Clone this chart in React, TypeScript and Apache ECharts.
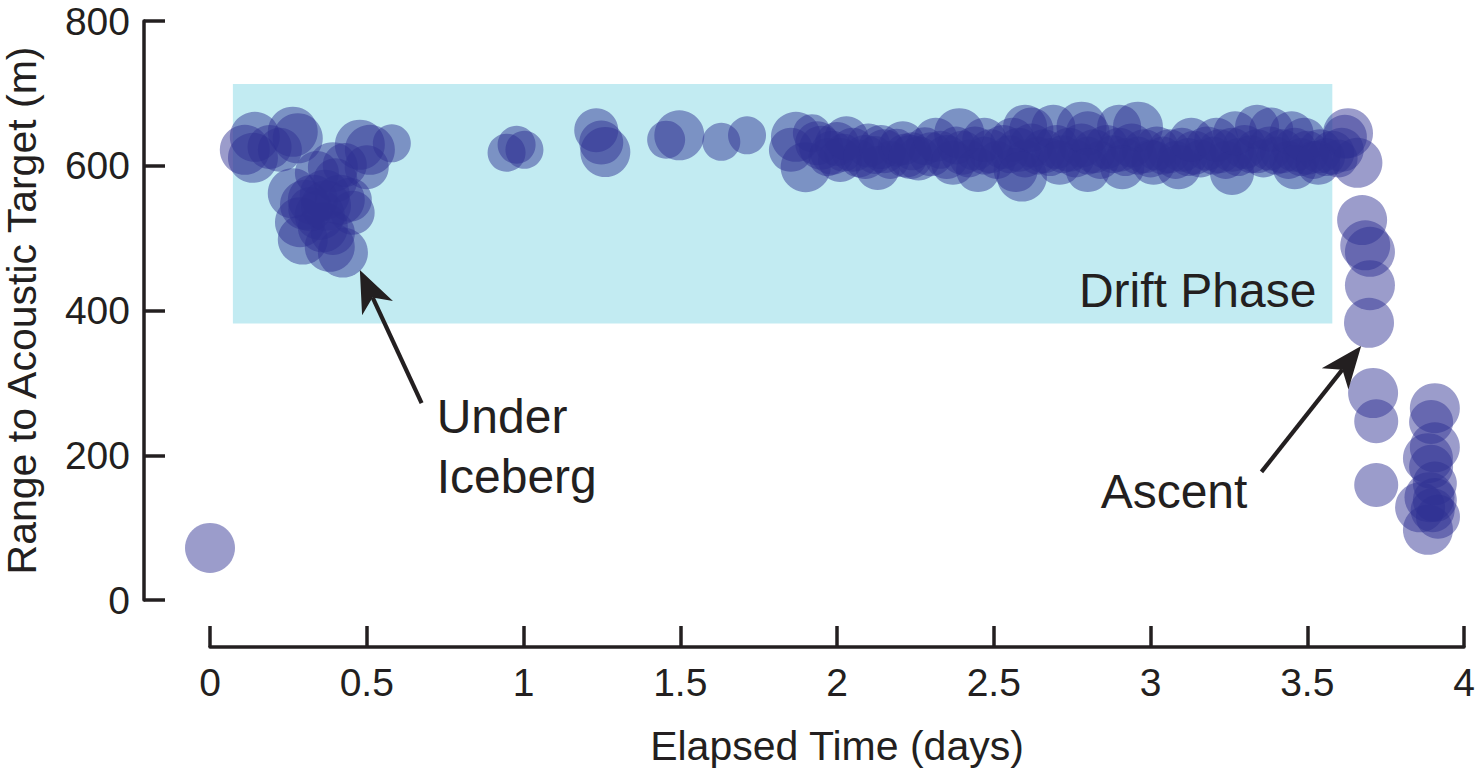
import React, { useEffect, useRef } from "react";
import * as echarts from "echarts";

// [elapsed time (days), range (m), detection weight 1..3]
const launchPoints: number[][] = [[0.0, 72, 3]];

const icebergPoints: number[][] = [
  [0.111, 622, 3], [0.137, 611, 3], [0.143, 640, 3], [0.19, 626, 2], [0.223, 622, 2],
  [0.264, 647, 3], [0.28, 638, 3], [0.264, 562, 3], [0.287, 522, 3], [0.296, 498, 3],
  [0.303, 546, 3], [0.328, 553, 3], [0.341, 590, 2], [0.35, 532, 3], [0.36, 515, 3],
  [0.382, 488, 3], [0.392, 507, 2], [0.392, 598, 3], [0.414, 553, 3], [0.424, 480, 3],
  [0.446, 553, 2], [0.455, 535, 2], [0.366, 560, 3], [0.4, 580, 2], [0.43, 601, 2],
  [0.478, 629, 3], [0.51, 622, 3], [0.5, 598, 2], [0.58, 631, 1], [0.32, 540, 2],
  [0.37, 545, 3],
];

const transitPoints: number[][] = [
  [0.946, 618, 1], [0.978, 629, 1], [1.003, 622, 1], [1.232, 649, 2], [1.248, 632, 2],
  [1.261, 619, 3], [1.455, 636, 1], [1.497, 642, 3], [1.631, 633, 1], [1.713, 642, 1],
  [1.853, 622, 2], [1.869, 640, 3], [1.9, 598, 3], [1.92, 645, 1], [1.937, 631, 2],
];

const driftPoints: number[][] = [
  [1.95, 625, 2], [1.97, 612, 1], [2.0, 630, 2], [2.02, 618, 1], [2.05, 622, 2], [2.07, 610, 1],
  [2.1, 628, 2], [2.12, 615, 1], [2.15, 620, 2], [2.17, 608, 1], [2.19, 625, 1], [2.22, 614, 2],
  [2.24, 620, 1], [2.26, 610, 2], [2.28, 627, 1], [2.3, 616, 2], [2.33, 622, 1], [2.35, 612, 2],
  [2.38, 628, 1], [2.4, 618, 2], [2.42, 610, 1], [2.44, 624, 2], [2.47, 614, 1], [2.49, 620, 2],
  [2.51, 608, 1], [2.53, 626, 2], [2.55, 616, 1], [2.58, 622, 2], [2.6, 610, 1], [2.62, 628, 2],
  [2.64, 614, 1], [2.66, 620, 2], [2.68, 612, 1], [2.7, 626, 2], [2.72, 616, 1], [2.74, 622, 2],
  [2.76, 610, 1], [2.78, 628, 2], [2.8, 614, 1], [2.82, 620, 2], [2.84, 608, 1], [2.86, 626, 2],
  [2.88, 616, 1], [2.9, 622, 2], [2.92, 612, 1], [2.94, 628, 2], [2.96, 614, 1], [2.98, 620, 2],
  [3.0, 610, 1], [3.02, 624, 2], [3.04, 614, 1], [3.06, 620, 2], [3.08, 608, 1], [3.1, 622, 2],
  [3.12, 612, 1], [3.14, 618, 2], [3.16, 610, 1], [3.18, 624, 2], [3.2, 614, 1], [3.22, 620, 2],
  [3.24, 608, 1], [3.26, 622, 2], [3.28, 612, 1], [3.3, 626, 2], [3.32, 616, 1], [3.34, 620, 2],
  [3.36, 610, 1], [3.38, 624, 2], [3.4, 614, 1], [3.42, 620, 2], [3.44, 608, 1], [3.46, 622, 2],
  [3.48, 612, 1], [3.5, 618, 2], [3.52, 608, 1], [3.54, 620, 2], [3.56, 612, 1], [3.58, 618, 2],
  [3.6, 610, 1],
  [1.985, 618, 2], [2.01, 608, 2], [2.03, 638, 2], [2.09, 612, 2], [2.13, 597, 2], [2.14, 626, 2],
  [2.21, 631, 2], [2.235, 612, 2], [2.315, 636, 2], [2.37, 604, 2], [2.39, 645, 3], [2.45, 594, 2],
  [2.47, 636, 2], [2.56, 636, 2], [2.57, 594, 2], [2.59, 585, 3], [2.6, 654, 2], [2.62, 650, 2],
  [2.69, 654, 2], [2.71, 604, 2], [2.78, 654, 3], [2.8, 645, 2], [2.8, 594, 2], [2.9, 654, 2],
  [2.96, 654, 3], [2.91, 598, 2], [3.01, 604, 2], [3.09, 598, 2], [3.13, 636, 2], [3.21, 636, 2],
  [3.26, 590, 2], [3.27, 645, 2], [3.34, 654, 2], [3.385, 650, 2], [3.45, 645, 2], [3.46, 598, 2],
  [3.49, 636, 2], [3.535, 604, 2],
];

const ascentPoints: number[][] = [
  [3.61, 622, 2], [3.62, 640, 2], [3.63, 645, 3], [3.66, 604, 3], [3.675, 525, 3],
  [3.685, 490, 3], [3.7, 481, 3], [3.7, 435, 3], [3.697, 383, 3], [3.71, 286, 3],
  [3.72, 247, 2], [3.72, 159, 2],
  [3.907, 265, 3], [3.895, 246, 2], [3.907, 211, 3], [3.885, 196, 3], [3.895, 184, 2],
  [3.907, 161, 2], [3.89, 142, 3], [3.86, 128, 3], [3.907, 138, 2], [3.9, 124, 2],
  [3.917, 115, 2], [3.885, 97, 3],
];

// Drift-phase band in data coordinates
const driftBand = { t0: 0.073, t1: 3.58, r0: 382, r1: 713 };

const xMin = 0, xMax = 4, xStep = 0.5;
const yMin = 0, yMax = 800, yStep = 200;

const INK = "#231f20";
const FONT = "'Liberation Sans', Arial, Helvetica, sans-serif";

export default function App() {
  const ref = useRef<HTMLDivElement>(null);

  useEffect(() => {
    document.body.style.margin = "0";
    const chart = echarts.init(ref.current!, null, { renderer: "svg" });
    const allPoints = [
      ...launchPoints,
      ...icebergPoints,
      ...transitPoints,
      ...driftPoints,
      ...ascentPoints,
    ];

    chart.setOption({
      animation: false,
      grid: {
        left: 210, right: 11, top: 21, bottom: 173,
        containLabel: false, outerBoundsMode: "none",
      },
      xAxis: {
        type: "value",
        min: xMin,
        max: xMax,
        interval: xStep,
        offset: 47,
        name: "Elapsed Time (days)",
        nameLocation: "middle",
        nameGap: 78,
        nameTextStyle: { fontSize: 41, fontFamily: FONT, color: INK },
        axisLine: { show: true, onZero: false, lineStyle: { color: INK, width: 3.5 } },
        axisTick: { show: true, inside: true, length: 21, lineStyle: { color: INK, width: 3.5 } },
        axisLabel: { fontSize: 39, fontFamily: FONT, color: INK, margin: 16 },
        splitLine: { show: false },
      },
      yAxis: {
        type: "value",
        min: yMin,
        max: yMax,
        interval: yStep,
        offset: 66,
        name: "Range to Acoustic Target (m)",
        nameLocation: "middle",
        nameGap: 102,
        nameTextStyle: { fontSize: 41, fontFamily: FONT, color: INK },
        axisLine: { show: true, onZero: false, lineStyle: { color: INK, width: 3.5 } },
        axisTick: { show: true, inside: true, length: 21, lineStyle: { color: INK, width: 3.5 } },
        axisLabel: { fontSize: 39, fontFamily: FONT, color: INK, margin: 14 },
        splitLine: { show: false },
      },
      series: [
        {
          type: "scatter",
          z: 2,
          data: allPoints,
          symbol: "circle",
          symbolSize: (d: number[]) => 32 + 6 * d[2],
          itemStyle: { color: "#2e3192", opacity: 0.48, borderWidth: 0 },
          silent: true,
          markArea: {
            silent: true,
            z: 1,
            itemStyle: { color: "#c2ebf2", opacity: 1, borderWidth: 0 },
            data: [[{ coord: [driftBand.t0, driftBand.r0] }, { coord: [driftBand.t1, driftBand.r1] }]],
          },
        },
      ],
    });

    const P = (t: number, v: number) => chart.convertToPixel({ gridIndex: 0 }, [t, v]) as number[];
    const AFS = 48;

    const arrow = (tail: number[], tip: number[]) => {
      const a = P(tail[0], tail[1]);
      const b = P(tip[0], tip[1]);
      const dx = b[0] - a[0], dy = b[1] - a[1];
      const len = Math.hypot(dx, dy);
      const ux = dx / len, uy = dy / len;
      const nx = -uy, ny = ux;
      const L = 42, W = 17;
      const notch = [b[0] - ux * L * 0.72, b[1] - uy * L * 0.72];
      return [
        {
          type: "line",
          shape: { x1: a[0], y1: a[1], x2: notch[0], y2: notch[1] },
          style: { stroke: INK, lineWidth: 4.2 },
          z: 10,
        },
        {
          type: "polygon",
          shape: {
            points: [
              [b[0], b[1]],
              [b[0] - ux * L + nx * W, b[1] - uy * L + ny * W],
              notch,
              [b[0] - ux * L - nx * W, b[1] - uy * L - ny * W],
            ],
          },
          style: { fill: INK },
          z: 10,
        },
      ];
    };

    const label = (text: string, t: number, v: number, align: string) => {
      const p = P(t, v);
      return {
        type: "text",
        x: p[0],
        y: p[1] - 0.35 * AFS,
        z: 10,
        style: {
          text,
          fill: INK,
          fontSize: AFS,
          fontFamily: FONT,
          align,
          verticalAlign: "middle",
          textAlign: align,
          textVerticalAlign: "middle",
        },
      };
    };

    chart.setOption({
      graphic: [
        ...arrow([0.675, 272], [0.478, 456]),
        ...arrow([3.354, 177], [3.672, 351]),
        label("Under", 0.723, 230.7, "left"),
        label("Iceberg", 0.723, 147.8, "left"),
        label("Drift Phase", 3.529, 404.8, "right"),
        label("Ascent", 2.841, 127.1, "left"),
      ],
    });

    return () => chart.dispose();
  }, []);

  return <div ref={ref} style={{ width: 1475, height: 773 }} />;
}
